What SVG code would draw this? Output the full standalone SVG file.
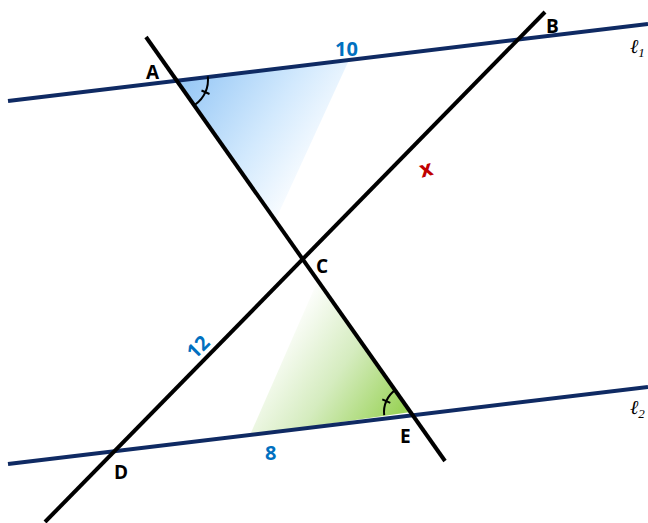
<svg xmlns="http://www.w3.org/2000/svg" width="648" height="523" viewBox="0 0 648 523">
<defs>
<linearGradient id="gBlue" gradientUnits="userSpaceOnUse" x1="185" y1="85" x2="320" y2="175">
<stop offset="0" stop-color="#99c9f6"/>
<stop offset="0.55" stop-color="#d2e9fd"/>
<stop offset="1" stop-color="#ffffff"/>
</linearGradient>
<linearGradient id="gGreen" gradientUnits="userSpaceOnUse" x1="280" y1="330" x2="400" y2="412">
<stop offset="0" stop-color="#ffffff"/>
<stop offset="0.5" stop-color="#d5ecbf"/>
<stop offset="1" stop-color="#9bd35a"/>
</linearGradient>
<style>
.par{stroke:#0f2a63;stroke-width:4;fill:none;stroke-linecap:butt}
.sec{stroke:#000;stroke-width:4;fill:none;stroke-linecap:butt}
.arc{stroke:#000;stroke-width:2;fill:none}
.lbl{font-family:"Open Sans","Liberation Sans",sans-serif;font-weight:bold;font-size:19px;fill:#000}
.num{font-family:"Open Sans","Liberation Sans",sans-serif;font-weight:bold;font-size:20px;fill:#0070c0}
.ell{font-family:"Liberation Serif","DejaVu Serif",serif;font-style:italic;font-size:20px;fill:#000}
</style>
</defs>
<rect width="648" height="523" fill="#fff"/>
<g id="shading">
<polygon points="178,80 349,60 276,219" fill="url(#gBlue)"/>
<polygon points="411,412 250,435 318,280" fill="url(#gGreen)"/>
</g>
<g id="connectors">
<line id="l1" class="par" x1="8" y1="101" x2="648" y2="24"/>
<line id="l2" class="par" x1="8" y1="464" x2="648" y2="387"/>
<line id="AE" class="sec" x1="146" y1="37" x2="445" y2="461"/>
<line id="DB" class="sec" x1="45" y1="522" x2="545" y2="12"/>
</g>
<g id="angles">
<path class="arc" d="M207.8,76.4 A30,30 0 0 1 195.3,104.5"/>
<line class="arc" x1="201.5" y1="90.5" x2="209.5" y2="94"/>
<path class="arc" d="M395.4,389.9 A27,27 0 0 0 384.2,415.2"/>
<line class="arc" x1="382.3" y1="399.3" x2="390.3" y2="402.8"/>
</g>
<g id="A"><text class="lbl" x="146" y="79">A</text></g>
<g id="B"><text class="lbl" x="546" y="33">B</text></g>
<g id="C"><text class="lbl" x="316" y="273">C</text></g>
<g id="D"><text class="lbl" x="114" y="479">D</text></g>
<g id="E"><text class="lbl" x="400" y="443">E</text></g>
<g id="labels">
<text class="num" x="335" y="56">10</text>
<text class="num" x="265" y="460">8</text>
<text class="num" transform="translate(203,352) rotate(-45)" text-anchor="middle">12</text>
<text transform="translate(428,176) rotate(-15)" text-anchor="middle" font-family="'Open Sans','Liberation Sans',sans-serif" font-weight="bold" font-size="22" fill="#c00000">x</text>
<text class="ell" x="630" y="53">ℓ<tspan font-size="13" dy="4">1</tspan></text>
<text class="ell" x="630" y="414">ℓ<tspan font-size="13" dy="4">2</tspan></text>
</g>
</svg>
